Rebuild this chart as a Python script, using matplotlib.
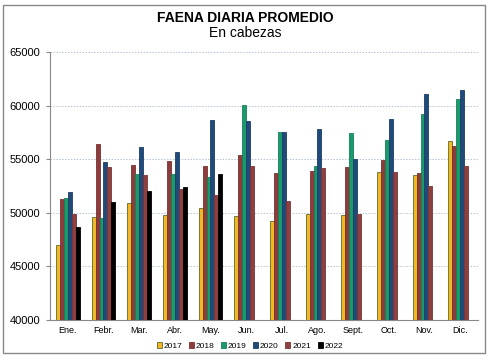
import matplotlib
matplotlib.use("Agg")
import matplotlib.pyplot as plt
import numpy as np
from matplotlib.patches import Rectangle, Patch

months = ["Ene.", "Febr.", "Mar.", "Abr.", "May.", "Jun.", "Jul.", "Ago.", "Sept.", "Oct.", "Nov.", "Dic."]
years = ["2017", "2018", "2019", "2020", "2021", "2022"]

v2017 = [47000, 49600, 50900, 49760, 50450, 49670, 49200, 49860, 49760, 53780, 53500, 56670]
v2018 = [51300, 56400, 54430, 54860, 54330, 55390, 53710, 53930, 54300, 54960, 53690, 56260]
v2019 = [51350, 49500, 53600, 53600, 53310, 60060, 57510, 54370, 57400, 56790, 59220, 60620]
v2020 = [51950, 54700, 56100, 55670, 58690, 58530, 57570, 57790, 54990, 58720, 61110, 61480]
v2021 = [49900, 54250, 53550, 52190, 51660, 54400, 51100, 54180, 49920, 53780, 52500, 54330]
v2022 = [48700, 51000, 52060, 52380, 53650]

series = [v2017, v2018, v2019, v2020, v2021, v2022]
colors = ["#F2B824", "#8E3B3B", "#1A9A6C", "#1F4A7A", "#8E4040", "#000000"]
edges = ["#5C6B2E", "#7A3030", "#158055", "#1A3E66", "#7A3535", "#000000"]

plt.rcParams['font.family'] = ['Liberation Sans', 'DejaVu Sans']

fig = plt.figure(figsize=(4.91, 3.6), dpi=100)
ax = fig.add_axes([50/491, 1-320/360, (478-50)/491, (320-52)/360])

n = len(series)
bw = 0.11
for i, (vals, c, e) in enumerate(zip(series, colors, edges)):
    x = np.arange(len(vals)) + (i - (n-1)/2) * bw
    ax.bar(x, np.array(vals) - 40000, bottom=40000, width=bw, color=c,
           edgecolor=e, linewidth=0.6, zorder=3)

ax.set_ylim(40000, 65000)
ax.set_xlim(-0.5, 11.5)
ax.set_yticks(range(40000, 65001, 5000))
ax.set_yticklabels([str(v) for v in range(40000, 65001, 5000)], fontsize=8)
ax.set_xticks(range(12))
ax.set_xticklabels(months, fontsize=6.5)
ax.tick_params(axis='x', length=0, pad=4)
ax.tick_params(axis='y', length=3, color='#888888', pad=4)

ax.yaxis.grid(True, linestyle=(0, (1.5, 1.5)), color='#b4c4d8', linewidth=0.7, zorder=0)
ax.set_axisbelow(True)
for s in ['top', 'right']:
    ax.spines[s].set_visible(False)
ax.spines['left'].set_color('#888888')
ax.spines['bottom'].set_color('#888888')

fig.text(245/491, 1-18/360, "FAENA DIARIA PROMEDIO", ha='center', va='center',
         fontsize=10, fontweight='bold')
fig.text(245/491, 1-33/360, "En cabezas", ha='center', va='center', fontsize=10)

handles = [Patch(facecolor=c, edgecolor=e, linewidth=0.6) for c, e in zip(colors, edges)]
fig.legend(handles, years, loc='center', bbox_to_anchor=(250/491, 1-346/360), ncol=6,
           fontsize=6, frameon=False, handlelength=0.6, handleheight=0.6,
           handletextpad=0.2, columnspacing=0.8)

fig.patches.append(Rectangle((3/491, 1-353/360), (485-3)/491, (353-5)/360,
                             transform=fig.transFigure, fill=False,
                             edgecolor='#888888', linewidth=1))

fig.savefig("out.png", dpi=100)
